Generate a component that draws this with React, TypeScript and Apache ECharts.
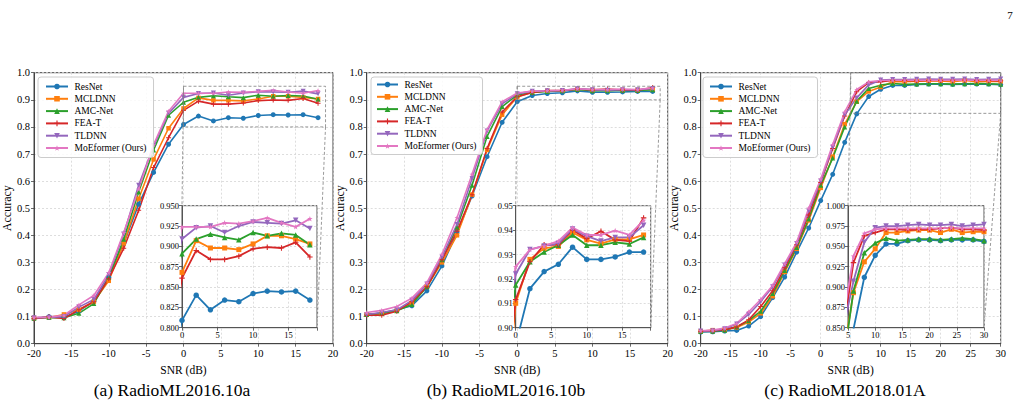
import React, { useEffect, useRef } from "react";
import * as echarts from "echarts";

const FONT = "Liberation Serif, DejaVu Serif, serif";

const MODELS = ["ResNet", "MCLDNN", "AMC-Net", "FEA-T", "TLDNN", "MoEformer (Ours)"];
const COLORS = ["#1f77b4", "#ff7f0e", "#2ca02c", "#d62728", "#9467bd", "#e377c2"];
const PLUS = "path://M3.2,0H4.8V3.2H8V4.8H4.8V8H3.2V4.8H0V3.2H3.2Z";
const STAR = "path://M5,0L6.2,3.6L10,3.6L6.9,5.8L8.1,9.5L5,7.2L1.9,9.5L3.1,5.8L0,3.6L3.8,3.6Z";
const SYMBOLS = ["circle", "rect", "triangle", PLUS, "triangle", STAR];
const SYMBOL_ROTATE = [0, 0, 0, 0, 180, 0];

// SNR grids (dB)
const SNR_2016 = [-20, -18, -16, -14, -12, -10, -8, -6, -4, -2, 0, 2, 4, 6, 8, 10, 12, 14, 16, 18];
const SNR_2018 = [-20, -18, -16, -14, -12, -10, -8, -6, -4, -2, 0, 2, 4, 6, 8, 10, 12, 14, 16, 18, 20, 22, 24, 26, 28, 30];

// RadioML2016.10a accuracy
const A_RESNET = [0.093, 0.100, 0.098, 0.120, 0.157, 0.245, 0.370, 0.515, 0.632, 0.736, 0.809, 0.840, 0.822, 0.834, 0.832, 0.842, 0.845, 0.844, 0.845, 0.834];
const A_MCLDNN = [0.095, 0.097, 0.108, 0.125, 0.155, 0.232, 0.370, 0.535, 0.680, 0.795, 0.868, 0.907, 0.898, 0.898, 0.896, 0.903, 0.913, 0.913, 0.909, 0.903];
const A_AMCNET = [0.094, 0.097, 0.096, 0.112, 0.148, 0.245, 0.385, 0.560, 0.715, 0.843, 0.891, 0.909, 0.915, 0.911, 0.908, 0.917, 0.913, 0.916, 0.914, 0.902];
const A_FEAT = [0.092, 0.099, 0.093, 0.125, 0.155, 0.240, 0.352, 0.492, 0.650, 0.760, 0.861, 0.895, 0.884, 0.884, 0.888, 0.897, 0.899, 0.898, 0.905, 0.887];
const A_TLDNN = [0.096, 0.097, 0.100, 0.135, 0.163, 0.255, 0.405, 0.585, 0.730, 0.850, 0.909, 0.923, 0.925, 0.917, 0.925, 0.930, 0.929, 0.928, 0.932, 0.922];
const A_MOE = [0.097, 0.098, 0.105, 0.143, 0.178, 0.262, 0.410, 0.570, 0.735, 0.858, 0.924, 0.924, 0.924, 0.929, 0.928, 0.931, 0.935, 0.929, 0.924, 0.934];

// RadioML2016.10b accuracy
const B_RESNET = [0.108, 0.113, 0.125, 0.140, 0.195, 0.287, 0.410, 0.545, 0.690, 0.817, 0.893, 0.916, 0.923, 0.926, 0.933, 0.928, 0.928, 0.929, 0.931, 0.931];
const B_MCLDNN = [0.108, 0.110, 0.122, 0.150, 0.210, 0.300, 0.400, 0.550, 0.715, 0.845, 0.910, 0.928, 0.9325, 0.9333, 0.939, 0.936, 0.9345, 0.9362, 0.9362, 0.938];
const B_AMCNET = [0.108, 0.112, 0.122, 0.145, 0.210, 0.310, 0.430, 0.585, 0.765, 0.875, 0.9175, 0.927, 0.931, 0.9338, 0.938, 0.9338, 0.9338, 0.935, 0.9343, 0.937];
const B_FEAT = [0.105, 0.105, 0.120, 0.155, 0.210, 0.310, 0.415, 0.550, 0.720, 0.855, 0.9115, 0.927, 0.934, 0.934, 0.940, 0.9365, 0.9395, 0.936, 0.9355, 0.945];
const B_TLDNN = [0.108, 0.115, 0.125, 0.160, 0.220, 0.320, 0.440, 0.610, 0.785, 0.885, 0.922, 0.932, 0.9335, 0.9345, 0.9405, 0.9375, 0.9355, 0.937, 0.937, 0.942];
const B_MOE = [0.115, 0.123, 0.137, 0.168, 0.225, 0.330, 0.465, 0.625, 0.790, 0.893, 0.925, 0.932, 0.9335, 0.9355, 0.941, 0.938, 0.938, 0.9398, 0.938, 0.944];

// RadioML2018.01A accuracy
const C_RESNET = [0.043, 0.044, 0.047, 0.049, 0.065, 0.100, 0.170, 0.246, 0.338, 0.427, 0.528, 0.625, 0.743, 0.848, 0.912, 0.939, 0.953, 0.953, 0.957, 0.958, 0.958, 0.957, 0.958, 0.958, 0.958, 0.956];
const C_MCLDNN = [0.046, 0.050, 0.052, 0.060, 0.080, 0.112, 0.175, 0.265, 0.350, 0.455, 0.575, 0.690, 0.810, 0.893, 0.931, 0.947, 0.967, 0.967, 0.969, 0.970, 0.970, 0.967, 0.971, 0.967, 0.968, 0.968];
const C_AMCNET = [0.045, 0.046, 0.050, 0.063, 0.085, 0.120, 0.185, 0.270, 0.355, 0.460, 0.585, 0.685, 0.800, 0.895, 0.942, 0.954, 0.960, 0.957, 0.958, 0.959, 0.959, 0.958, 0.959, 0.960, 0.959, 0.957];
const C_FEAT = [0.046, 0.047, 0.052, 0.062, 0.088, 0.137, 0.195, 0.280, 0.365, 0.475, 0.595, 0.720, 0.840, 0.930, 0.963, 0.967, 0.971, 0.971, 0.970, 0.971, 0.971, 0.972, 0.973, 0.971, 0.971, 0.970];
const C_TLDNN = [0.047, 0.048, 0.055, 0.073, 0.108, 0.155, 0.210, 0.290, 0.370, 0.490, 0.600, 0.725, 0.845, 0.907, 0.955, 0.973, 0.975, 0.975, 0.976, 0.977, 0.976, 0.976, 0.977, 0.975, 0.976, 0.977];
const C_MOE = [0.048, 0.050, 0.058, 0.075, 0.118, 0.163, 0.215, 0.295, 0.375, 0.500, 0.607, 0.735, 0.855, 0.938, 0.966, 0.971, 0.972, 0.972, 0.972, 0.972, 0.972, 0.972, 0.973, 0.972, 0.972, 0.972];

const CAPTIONS = ["(a) RadioML2016.10a", "(b) RadioML2016.10b", "(c) RadioML2018.01A"];

const PANELS = [
  {
    snr: SNR_2016,
    acc: [A_RESNET, A_MCLDNN, A_AMCNET, A_FEAT, A_TLDNN, A_MOE],
    main: { left: 34, top: 72.7, width: 299, height: 271 },
    xMin: -20, xMax: 20,
    inset: { left: 182, top: 205.7, width: 135, height: 122 },
    zoomX: [0, 19], zoomY: [0.8, 0.95], zoomStep: 0.025, digits: 3,
    legend: { left: 38, top: 77, itemWidth: 22, padding: [3.5, 7, 3.5, 7] },
    captionX: 172,
  },
  {
    snr: SNR_2016,
    acc: [B_RESNET, B_MCLDNN, B_AMCNET, B_FEAT, B_TLDNN, B_MOE],
    main: { left: 366.7, top: 72.7, width: 301, height: 271 },
    xMin: -20, xMax: 20,
    inset: { left: 515.7, top: 205.7, width: 135, height: 122 },
    zoomX: [0, 19], zoomY: [0.9, 0.95], zoomStep: 0.01, digits: 2,
    legend: { left: 371, top: 77, itemWidth: 21, padding: [1.5, 6, 2.5, 5] },
    captionX: 506,
  },
  {
    snr: SNR_2018,
    acc: [C_RESNET, C_MCLDNN, C_AMCNET, C_FEAT, C_TLDNN, C_MOE],
    main: { left: 700.7, top: 72.7, width: 300, height: 271 },
    xMin: -20, xMax: 30,
    inset: { left: 848, top: 205.7, width: 136, height: 122 },
    zoomX: [5, 30], zoomY: [0.85, 1.0], zoomStep: 0.025, digits: 3,
    legend: { left: 703, top: 77, itemWidth: 22, padding: [3.5, 7, 3.5, 6] },
    captionX: 845,
  },
];

const W = 1026;
const H = 406;

function gridBox(b: { left: number; top: number; width: number; height: number }) {
  return { left: b.left, top: b.top, width: b.width, height: b.height };
}

function buildOption() {
  const grid: any[] = [];
  const xAxis: any[] = [];
  const yAxis: any[] = [];
  const series: any[] = [];
  const legend: any[] = [];

  const splitLine = { show: true, lineStyle: { color: "#d4d4d4", width: 0.8, type: [2, 2] } };
  const axisLine = { show: true, onZero: false, lineStyle: { color: "#444", width: 1 } };
  const axisTick = { show: true, length: 3, lineStyle: { color: "#444", width: 0.8 } };

  PANELS.forEach((p, pi) => {
    const mainIdx = pi * 2;
    const insetIdx = pi * 2 + 1;

    grid.push({
      ...gridBox(p.main),
      show: true,
      backgroundColor: "transparent",
      borderColor: "#444",
      borderWidth: 1,
      z: 0,
    });
    grid.push({
      ...gridBox(p.inset),
      show: true,
      backgroundColor: "#ffffff",
      borderColor: "#555",
      borderWidth: 1,
      z: 5,
    });

    xAxis.push({
      type: "value",
      gridIndex: mainIdx,
      min: p.xMin,
      max: p.xMax,
      interval: 5,
      name: "SNR (dB)",
      nameLocation: "middle",
      nameGap: 16,
      nameTextStyle: { fontFamily: FONT, fontSize: 11.5, color: "#000" },
      axisLine,
      axisTick,
      splitLine,
      axisLabel: { fontFamily: FONT, fontSize: 10.5, color: "#000", margin: 4 },
    });
    yAxis.push({
      type: "value",
      gridIndex: mainIdx,
      min: 0,
      max: 1,
      interval: 0.1,
      name: "Accuracy",
      nameLocation: "middle",
      nameGap: 20,
      nameTextStyle: { fontFamily: FONT, fontSize: 12, color: "#000" },
      axisLine,
      axisTick,
      splitLine,
      axisLabel: {
        fontFamily: FONT,
        fontSize: 10.5,
        color: "#000",
        margin: 4,
        formatter: (v: number) => v.toFixed(1),
      },
    });

    xAxis.push({
      type: "value",
      gridIndex: insetIdx,
      min: p.zoomX[0],
      max: p.zoomX[1],
      interval: 5,
      z: 6,
      axisLine: { ...axisLine, lineStyle: { color: "#555", width: 1 } },
      axisTick,
      splitLine,
      axisLabel: {
        fontFamily: FONT,
        fontSize: 8.5,
        color: "#000",
        margin: 3,
        formatter: (v: number) => (Math.abs(v % 5) < 1e-9 ? String(v) : ""),
      },
    });
    yAxis.push({
      type: "value",
      gridIndex: insetIdx,
      min: p.zoomY[0],
      max: p.zoomY[1],
      interval: p.zoomStep,
      z: 6,
      axisLine: { ...axisLine, lineStyle: { color: "#555", width: 1 } },
      axisTick,
      splitLine,
      axisLabel: {
        fontFamily: FONT,
        fontSize: 8.5,
        color: "#000",
        margin: 3,
        formatter: (v: number) => v.toFixed(p.digits),
      },
    });

    MODELS.forEach((name, mi) => {
      const data = p.snr.map((s, k) => [s, p.acc[mi][k]]);
      const common = {
        type: "line",
        name,
        data,
        symbol: SYMBOLS[mi],
        symbolRotate: SYMBOL_ROTATE[mi],
        showAllSymbol: true,
        color: COLORS[mi],
        itemStyle: { color: COLORS[mi] },
        clip: true,
        animation: false,
      };
      series.push({
        ...common,
        xAxisIndex: mainIdx,
        yAxisIndex: mainIdx,
        symbolSize: mi === 1 ? 4.5 : 5,
        lineStyle: { width: 1.6, color: COLORS[mi] },
        z: 2,
      });
      series.push({
        ...common,
        xAxisIndex: insetIdx,
        yAxisIndex: insetIdx,
        symbolSize: mi === 1 ? 5 : 5.5,
        lineStyle: { width: 1.8, color: COLORS[mi] },
        z: 7,
      });
    });

    legend.push({
      orient: "vertical",
      left: p.legend.left,
      top: p.legend.top,
      data: MODELS,
      itemWidth: p.legend.itemWidth,
      itemHeight: 7,
      itemGap: 0.3,
      padding: p.legend.padding,
      borderColor: "#cccccc",
      borderWidth: 1,
      borderRadius: 3,
      backgroundColor: "rgba(255,255,255,0.85)",
      selectedMode: false,
      z: 8,
      textStyle: {
        fontFamily: FONT,
        fontSize: 9.5,
        color: "#000",
        lineHeight: 12,
        padding: [0, 0, 0, 1.5],
      },
    });
  });

  return {
    animation: false,
    backgroundColor: "#ffffff",
    textStyle: { fontFamily: FONT },
    grid,
    xAxis,
    yAxis,
    series,
    legend,
  };
}

export default function App() {
  const ref = useRef<HTMLDivElement>(null);

  useEffect(() => {
    if (!ref.current) return;
    const chart = echarts.init(ref.current, null, { renderer: "svg", width: W, height: H });
    chart.setOption(buildOption());

    // zoom boxes, connector lines and captions
    const graphic: any[] = [];
    PANELS.forEach((p, pi) => {
      const mainIdx = pi * 2;
      const insetIdx = pi * 2 + 1;
      const tl = chart.convertToPixel({ gridIndex: mainIdx } as any, [p.zoomX[0], p.zoomY[1]]) as number[];
      const br = chart.convertToPixel({ gridIndex: mainIdx } as any, [p.zoomX[1], p.zoomY[0]]) as number[];
      const itl = chart.convertToPixel({ gridIndex: insetIdx } as any, [p.zoomX[0], p.zoomY[1]]) as number[];
      const ibr = chart.convertToPixel({ gridIndex: insetIdx } as any, [p.zoomX[1], p.zoomY[0]]) as number[];
      const dashed = { stroke: "#808080", lineWidth: 0.8, lineDash: [3, 2], fill: "none" };
      graphic.push({
        type: "rect",
        silent: true,
        z: 3,
        shape: { x: tl[0], y: tl[1], width: br[0] - tl[0], height: br[1] - tl[1] },
        style: dashed,
      });
      graphic.push({
        type: "line",
        silent: true,
        z: 3,
        shape: { x1: tl[0], y1: tl[1], x2: itl[0], y2: itl[1] },
        style: dashed,
      });
      graphic.push({
        type: "line",
        silent: true,
        z: 3,
        shape: { x1: br[0], y1: br[1], x2: ibr[0], y2: ibr[1] },
        style: dashed,
      });
      graphic.push({
        type: "text",
        silent: true,
        x: p.captionX,
        y: 390,
        style: {
          text: CAPTIONS[pi],
          fontFamily: FONT,
          fontSize: 17.5,
          fill: "#000",
          align: "center",
          verticalAlign: "middle",
        },
      });
    });
    graphic.push({
      type: "text",
      silent: true,
      x: 1010,
      y: 15,
      style: { text: "7", fontFamily: FONT, fontSize: 11, fill: "#000", align: "center", verticalAlign: "middle" },
    });
    chart.setOption({ graphic });

    return () => chart.dispose();
  }, []);

  return (
    <div
      ref={ref}
      style={{ position: "fixed", left: 0, top: 0, width: W, height: H, background: "#fff" }}
    />
  );
}
